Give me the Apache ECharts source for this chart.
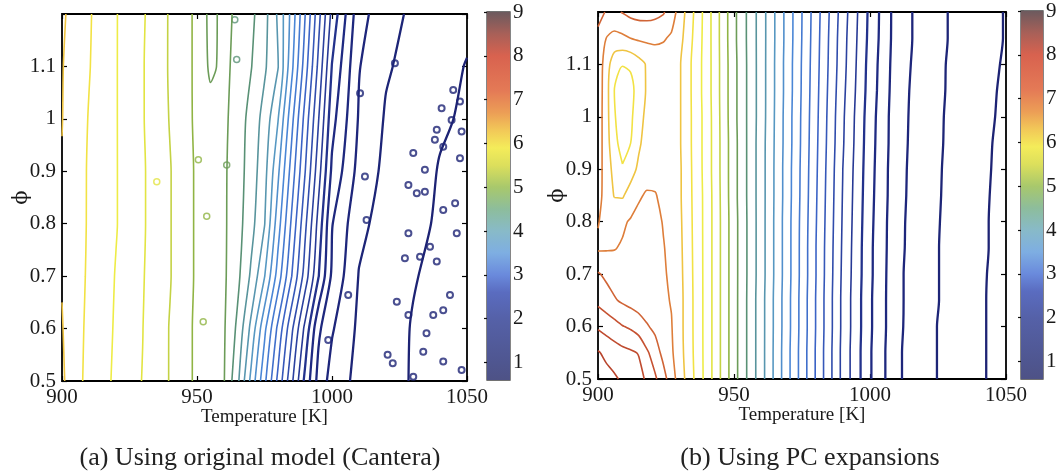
<!DOCTYPE html>
<html>
<head>
<meta charset="utf-8">
<script src="https://cdn.jsdelivr.net/npm/echarts@6/dist/echarts.min.js"></script>
<style>
  html, body { margin: 0; padding: 0; background: #fff; }
  #chart { width: 1061px; height: 474px; }
</style>
</head>
<body>
<div id="chart"></div>
<script>
// ---------------- data ----------------
// contour levels (shared by both panels)
const LEVELS = [0.8, 1.0, 1.2, 1.4, 1.6, 1.8, 2.0, 2.2, 2.4, 2.6, 2.8, 3.0, 3.2, 3.4, 3.6, 3.8,
  4.0, 4.2, 4.4, 4.6, 4.8, 5.0, 5.2, 5.4, 5.6, 5.8, 6.0, 6.2, 6.4, 6.6, 6.8, 7.0, 7.2, 7.4, 7.6];

// axis ticks
const T_TICKS = [900, 950, 1000, 1050];
const PHI_RANGE = [0.5, 1.2];
const CB_RANGE = [0.6, 9];
const CB_TICKS = [1, 2, 3, 4, 5, 6, 7, 8, 9];
const CAPTIONS = ['(a) Using original model (Cantera)', '(b) Using PC expansions'];
const X_NAME = 'Temperature [K]';
const Y_NAME = '\u03d5';

// (a) original model: field sampled on a T x phi grid (rows bottom -> top)
const A_T = [900, 910, 920, 930, 940, 950, 955, 960, 965, 970, 975, 980, 985, 990, 995, 1000, 1010, 1020, 1030, 1040, 1050];
const A_PHI = [0.5, 0.6, 0.7, 0.8, 0.9, 1.0, 1.1, 1.2];
const A_Z = [
  [6.03, 5.73, 5.57, 5.39, 5.19, 4.96, 4.89, 4.81, 4.45, 3.95, 3.45, 2.95, 2.45, 1.95, 1.53, 1.32, 1.14, 1.05, 0.99, 0.96, 0.94],
  [6.01, 5.75, 5.58, 5.40, 5.19, 4.96, 4.89, 4.82, 4.56, 4.15, 3.65, 3.15, 2.65, 2.15, 1.64, 1.42, 1.16, 1.07, 0.99, 0.96, 0.94],
  [5.99, 5.77, 5.59, 5.41, 5.21, 4.97, 4.90, 4.83, 4.65, 4.37, 4.01, 3.51, 3.01, 2.51, 2.01, 1.56, 1.19, 1.10, 1.01, 0.96, 0.93],
  [5.98, 5.78, 5.61, 5.42, 5.21, 4.97, 4.90, 4.83, 4.68, 4.47, 4.21, 3.69, 3.17, 2.65, 2.13, 1.61, 1.25, 1.12, 1.04, 0.98, 0.94],
  [5.99, 5.78, 5.61, 5.42, 5.21, 4.97, 4.90, 4.83, 4.69, 4.51, 4.27, 3.84, 3.32, 2.81, 2.28, 1.76, 1.33, 1.15, 1.07, 0.99, 0.96],
  [6.005, 5.79, 5.61, 5.41, 5.19, 4.96, 4.89, 4.84, 4.71, 4.53, 4.33, 4.01, 3.47, 2.93, 2.41, 1.87, 1.38, 1.18, 1.10, 1.02, 0.98],
  [6.01, 5.81, 5.61, 5.41, 5.18, 4.96, 4.76, 4.85, 4.74, 4.61, 4.43, 4.21, 3.66, 3.10, 2.55, 1.99, 1.41, 1.22, 1.14, 1.07, 0.99],
  [6.03, 5.82, 5.61, 5.42, 5.18, 4.96, 4.74, 4.86, 4.76, 4.65, 4.47, 4.17, 3.74, 3.21, 2.67, 2.14, 1.47, 1.28, 1.16, 1.10, 1.05]
];
// (a) small closed islands of the noisy solution: [T, phi, level]
const A_ISLANDS = [
  [1044.9, 1.055, 1.0], [1047.4, 1.033, 1.0], [1040.6, 1.020, 1.0], [1038.8, 0.979, 1.0], [1044.3, 0.998, 1.0],
  [1048.0, 0.976, 1.0], [1030.1, 0.935, 1.0], [1038.1, 0.960, 1.0], [1041.2, 0.947, 1.0], [1034.4, 0.903, 1.0],
  [1047.4, 0.925, 1.0], [1028.3, 0.874, 1.0], [1031.4, 0.858, 1.0], [1034.4, 0.861, 1.0], [1045.6, 0.839, 1.0],
  [1041.2, 0.826, 1.0], [1028.3, 0.782, 1.0], [1046.2, 0.782, 1.0], [1036.3, 0.756, 1.0], [1027.0, 0.734, 1.0],
  [1032.6, 0.737, 1.0], [1038.8, 0.728, 1.0], [1043.7, 0.664, 1.0], [1024.0, 0.651, 1.0], [1037.5, 0.626, 1.0],
  [1041.2, 0.635, 1.0], [1028.3, 0.626, 1.0], [1035.0, 0.591, 1.0], [1020.6, 0.550, 1.0], [1022.5, 0.534, 1.0],
  [1033.8, 0.556, 1.0], [1041.2, 0.537, 1.0], [1048.0, 0.521, 1.0], [1030.1, 0.508, 1.0], [1010.4, 1.049, 1.2],
  [1023.3, 1.106, 1.2], [1006.0, 0.664, 1.2], [998.6, 0.578, 1.4], [1012.8, 0.807, 1.2], [1012.2, 0.890, 1.2],
  [952.3, 0.613, 5.0], [953.6, 0.814, 5.0], [961.0, 0.912, 4.8], [950.5, 0.922, 5.0], [935.1, 0.880, 5.4],
  [964.0, 1.189, 4.6], [964.7, 1.113, 4.6]
];

// (b) PC expansion: field sampled on a T x phi grid (rows bottom -> top)
const B_T = [900, 903, 906, 909, 912, 915, 918, 921, 924, 927, 930, 940, 950, 960, 970, 980, 990, 1000, 1010, 1020, 1030, 1040, 1050];
const B_PHI = [0.5, 0.55, 0.6, 0.65, 0.7, 0.75, 0.8, 0.85, 0.9, 0.95, 1.0, 1.05, 1.1, 1.15, 1.2];
const B_Z = [
  [7.15, 7.08, 7.03, 6.97, 6.92, 6.86, 6.77, 6.63, 6.48, 6.29, 6.11, 5.52, 4.88, 4.28, 3.64, 2.99, 2.34, 1.82, 1.43, 1.26, 1.13, 1.03, 0.92],
  [7.02, 6.95, 6.90, 6.86, 6.83, 6.79, 6.63, 6.50, 6.34, 6.23, 6.08, 5.52, 4.88, 4.28, 3.64, 2.99, 2.34, 1.82, 1.43, 1.26, 1.13, 1.03, 0.92],
  [6.77, 6.72, 6.67, 6.61, 6.57, 6.50, 6.42, 6.35, 6.27, 6.21, 6.07, 5.52, 4.88, 4.28, 3.65, 3.00, 2.35, 1.83, 1.44, 1.26, 1.13, 1.03, 0.92],
  [6.55, 6.49, 6.42, 6.37, 6.33, 6.30, 6.27, 6.25, 6.23, 6.19, 6.07, 5.52, 4.88, 4.28, 3.65, 3.00, 2.35, 1.83, 1.44, 1.27, 1.14, 1.03, 0.92],
  [6.42, 6.36, 6.31, 6.28, 6.26, 6.25, 6.24, 6.23, 6.22, 6.17, 6.06, 5.52, 4.88, 4.29, 3.66, 3.01, 2.36, 1.84, 1.44, 1.27, 1.14, 1.03, 0.93],
  [6.17, 6.18, 6.19, 6.22, 6.24, 6.24, 6.24, 6.23, 6.21, 6.15, 6.05, 5.52, 4.88, 4.29, 3.66, 3.01, 2.37, 1.84, 1.45, 1.27, 1.14, 1.04, 0.93],
  [6.21, 6.14, 6.12, 6.17, 6.22, 6.25, 6.26, 6.25, 6.19, 6.13, 6.04, 5.52, 4.88, 4.29, 3.66, 3.02, 2.38, 1.85, 1.45, 1.28, 1.14, 1.04, 0.93],
  [6.28, 6.11, 5.99, 5.98, 6.08, 6.18, 6.22, 6.21, 6.16, 6.11, 6.03, 5.52, 4.87, 4.29, 3.67, 3.03, 2.39, 1.86, 1.46, 1.28, 1.15, 1.04, 0.94],
  [6.30, 6.10, 5.94, 5.82, 5.92, 6.04, 6.12, 6.14, 6.12, 6.09, 6.03, 5.51, 4.87, 4.29, 3.67, 3.04, 2.40, 1.87, 1.46, 1.29, 1.15, 1.05, 0.94],
  [6.31, 6.09, 5.86, 5.72, 5.80, 5.97, 6.08, 6.12, 6.11, 6.08, 6.02, 5.51, 4.87, 4.29, 3.68, 3.05, 2.42, 1.88, 1.47, 1.29, 1.16, 1.05, 0.95],
  [6.32, 6.08, 5.82, 5.68, 5.76, 5.93, 6.05, 6.10, 6.10, 6.07, 6.02, 5.51, 4.86, 4.30, 3.68, 3.06, 2.43, 1.89, 1.47, 1.30, 1.16, 1.06, 0.96],
  [6.33, 6.08, 5.80, 5.66, 5.73, 5.90, 6.02, 6.08, 6.09, 6.07, 6.02, 5.50, 4.86, 4.30, 3.69, 3.07, 2.45, 1.91, 1.48, 1.30, 1.17, 1.06, 0.97],
  [6.33, 6.10, 5.88, 5.81, 5.83, 5.92, 6.02, 6.08, 6.09, 6.07, 6.02, 5.50, 4.86, 4.30, 3.69, 3.08, 2.47, 1.92, 1.49, 1.31, 1.17, 1.07, 0.98],
  [6.32, 6.20, 6.14, 6.16, 6.20, 6.23, 6.24, 6.24, 6.22, 6.17, 6.07, 5.50, 4.85, 4.30, 3.70, 3.09, 2.48, 1.94, 1.50, 1.32, 1.18, 1.08, 0.99],
  [6.50, 6.38, 6.36, 6.41, 6.46, 6.48, 6.48, 6.46, 6.42, 6.30, 6.12, 5.50, 4.85, 4.30, 3.70, 3.10, 2.50, 1.95, 1.50, 1.32, 1.18, 1.08, 0.99]
];

// ---------------- styling ----------------
const FONT = 'Liberation Serif';
const LINE_STOPS = [
  [0.8, '#1c2170'], [1.8, '#1f2a82'], [2.4, '#2b419f'], [3.0, '#3b63c6'], [3.6, '#4a86d6'],
  [4.0, '#5798c2'], [4.4, '#58949c'], [4.7, '#5a9062'], [5.0, '#90b444'], [5.2, '#c4d244'],
  [5.4, '#e2e442'], [5.6, '#eeec46'], [5.8, '#f2e244'], [6.0, '#efc442'], [6.2, '#de7e3a'],
  [6.4, '#d06436'], [6.6, '#c65232'], [7.0, '#b8442c'], [7.6, '#a03a28']
];
const CB_STOPS = [
  [0.6, '#4e5286'], [1, '#4f5690'], [2, '#5561a8'], [2.6, '#5a6cc0'], [3, '#6a8adc'],
  [3.5, '#7eaee2'], [4, '#88bac8'], [4.5, '#8dbd9c'], [5, '#a8c86c'], [5.5, '#dcdf5c'],
  [5.9, '#f4ec5a'], [6.3, '#f2c858'], [6.7, '#ec9e56'], [7.2, '#e47a56'], [8, '#d8624f'],
  [8.5, '#a86058'], [9, '#6c5a5e']
];

function hexToRgb(h) { const n = parseInt(h.slice(1), 16); return [(n >> 16) & 255, (n >> 8) & 255, n & 255]; }
function colorAt(stops, v) {
  if (v <= stops[0][0]) return stops[0][1];
  for (let k = 1; k < stops.length; k++) {
    if (v <= stops[k][0]) {
      const t = (v - stops[k - 1][0]) / (stops[k][0] - stops[k - 1][0]);
      const a = hexToRgb(stops[k - 1][1]), b = hexToRgb(stops[k][1]);
      const c = a.map((x, i) => Math.round(x + t * (b[i] - x)));
      return 'rgb(' + c.join(',') + ')';
    }
  }
  return stops[stops.length - 1][1];
}

// ---------------- marching squares ----------------
const CASES = {
  1: [['L', 'B']], 2: [['B', 'R']], 3: [['L', 'R']], 4: [['R', 'T']], 6: [['B', 'T']], 7: [['L', 'T']],
  8: [['T', 'L']], 9: [['B', 'T']], 11: [['R', 'T']], 12: [['L', 'R']], 13: [['B', 'R']], 14: [['L', 'B']]
};
function isolines(xs, ys, z, level) {
  const lev = level + 1e-9;
  const segs = [];
  for (let j = 0; j < ys.length - 1; j++) {
    for (let i = 0; i < xs.length - 1; i++) {
      const v00 = z[j][i], v10 = z[j][i + 1], v11 = z[j + 1][i + 1], v01 = z[j + 1][i];
      const code = (v00 > lev ? 1 : 0) | (v10 > lev ? 2 : 0) | (v11 > lev ? 4 : 0) | (v01 > lev ? 8 : 0);
      const E = { B: 'h' + i + ',' + j, T: 'h' + i + ',' + (j + 1), L: 'v' + i + ',' + j, R: 'v' + (i + 1) + ',' + j };
      let pairs = CASES[code];
      if (code === 5 || code === 10) {
        const hi = (v00 + v10 + v11 + v01) / 4 > lev;
        if (code === 5) pairs = hi ? [['B', 'R'], ['T', 'L']] : [['L', 'B'], ['R', 'T']];
        else pairs = hi ? [['L', 'B'], ['R', 'T']] : [['B', 'R'], ['T', 'L']];
      }
      if (!pairs) continue;
      pairs.forEach(p => segs.push([E[p[0]], E[p[1]]]));
    }
  }
  const point = key => {
    const ij = key.slice(1).split(',').map(Number), i = ij[0], j = ij[1];
    if (key[0] === 'h') {
      const a = z[j][i], b = z[j][i + 1], t = (lev - a) / (b - a);
      return [xs[i] + t * (xs[i + 1] - xs[i]), ys[j]];
    }
    const a = z[j][i], b = z[j + 1][i], t = (lev - a) / (b - a);
    return [xs[i], ys[j] + t * (ys[j + 1] - ys[j])];
  };
  const byEdge = new Map();
  segs.forEach((s, idx) => s.forEach(k => { if (!byEdge.has(k)) byEdge.set(k, []); byEdge.get(k).push(idx); }));
  const used = new Array(segs.length).fill(false);
  const walk = (idx, key) => {
    const keys = [key];
    let cur = key;
    while (idx !== undefined && !used[idx]) {
      used[idx] = true;
      const s = segs[idx];
      const nxt = s[0] === cur ? s[1] : s[0];
      keys.push(nxt);
      cur = nxt;
      idx = byEdge.get(nxt).find(k => !used[k]);
    }
    return keys.map(point);
  };
  const lines = [];
  segs.forEach((s, idx) => {
    if (used[idx]) return;
    const open = s.find(k => byEdge.get(k).length === 1);
    if (open) lines.push(walk(idx, open));
  });
  segs.forEach((s, idx) => { if (!used[idx]) lines.push(walk(idx, s[0])); });
  return lines;
}

function lineWidth(level) { return level <= 2.0 ? 2.3 : 1.6; }

function contourSeries(xs, ys, z, axisIdx) {
  const out = [];
  LEVELS.forEach(level => {
    isolines(xs, ys, z, level).forEach(pts => {
      out.push({
        type: 'line', xAxisIndex: axisIdx, yAxisIndex: axisIdx, data: pts,
        showSymbol: false, smooth: 0.25, silent: true, animation: false, clip: true,
        lineStyle: { color: colorAt(LINE_STOPS, level), width: lineWidth(level) }
      });
    });
  });
  return out;
}

// ---------------- axes ----------------
const GRIDS = [
  { left: 62, top: 14, width: 405, height: 367 },
  { left: 598, top: 12, width: 408, height: 367 },
  { left: 487, top: 12, width: 23, height: 368 },
  { left: 1021, top: 11, width: 22, height: 368 }
];
const labelStyle = { fontFamily: FONT, fontSize: 21, color: '#1a1a1a' };
const tickStyle = { inside: true, length: 5, lineStyle: { color: '#000', width: 1.2 } };

function mainAxes(g) {
  const x = [
    { gridIndex: g, type: 'value', min: T_TICKS[0], max: T_TICKS[T_TICKS.length - 1], interval: 50,
      axisLine: { show: false }, splitLine: { show: false }, axisTick: tickStyle,
      axisLabel: Object.assign({ margin: 6, formatter: v => String(v) }, labelStyle),
      name: X_NAME, nameLocation: 'middle', nameGap: 27, nameMoveOverlap: false,
      nameTextStyle: { fontFamily: FONT, fontSize: 19, color: '#1a1a1a' } },
    { gridIndex: g, type: 'value', position: 'top', min: T_TICKS[0], max: T_TICKS[T_TICKS.length - 1], interval: 50,
      axisLine: { show: false }, splitLine: { show: false }, axisTick: tickStyle, axisLabel: { show: false } }
  ];
  const y = [
    { gridIndex: g, type: 'value', min: PHI_RANGE[0], max: PHI_RANGE[1], interval: 0.1,
      axisLine: { show: false }, splitLine: { show: false }, axisTick: tickStyle,
      axisLabel: Object.assign({ margin: 6, formatter: v => (v > 1.15 ? '' : String(Math.round(v * 10) / 10)) }, labelStyle),
      name: Y_NAME, nameLocation: 'middle', nameGap: 30, nameRotate: 90, nameMoveOverlap: false,
      nameTextStyle: { fontFamily: 'DejaVu Serif', fontSize: 21, color: '#1a1a1a' } },
    { gridIndex: g, type: 'value', position: 'right', min: PHI_RANGE[0], max: PHI_RANGE[1], interval: 0.1,
      axisLine: { show: false }, splitLine: { show: false }, axisTick: tickStyle, axisLabel: { show: false } }
  ];
  return { x, y };
}
function cbAxes(g) {
  const x = [{ gridIndex: g, type: 'value', min: 0, max: 1, show: false }];
  const y = [
    { gridIndex: g, type: 'value', position: 'right', min: CB_RANGE[0], max: CB_RANGE[1],
      axisLine: { show: false }, splitLine: { show: false },
      axisTick: { inside: true, length: 3, customValues: CB_TICKS, lineStyle: { color: '#111', width: 1.2 } },
      axisLabel: Object.assign({ margin: 3, customValues: CB_TICKS }, labelStyle) },
    { gridIndex: g, type: 'value', position: 'left', min: CB_RANGE[0], max: CB_RANGE[1],
      axisLine: { show: false }, splitLine: { show: false },
      axisTick: { inside: true, length: 3, customValues: CB_TICKS, lineStyle: { color: '#111', width: 1.2 } },
      axisLabel: { show: false } }
  ];
  return { x, y };
}

const axA = mainAxes(0), axB = mainAxes(1), cbA = cbAxes(2), cbB = cbAxes(3);
// axis index order: 0,1 -> panel a (x bottom/top; y left/right), 2,3 -> panel b, 4 -> cb a, 5 -> cb b
const xAxes = [axA.x[0], axA.x[1], axB.x[0], axB.x[1], cbA.x[0], cbB.x[0]];
const yAxes = [axA.y[0], axA.y[1], axB.y[0], axB.y[1], cbA.y[0], cbA.y[1], cbB.y[0], cbB.y[1]];

function colorbarSeries(xi, yi) {
  const span = CB_RANGE[1] - CB_RANGE[0];
  const stops = CB_STOPS.map(s => ({ offset: 1 - (s[0] - CB_RANGE[0]) / span, color: s[1] })).reverse();
  return {
    type: 'custom', xAxisIndex: xi, yAxisIndex: yi, silent: true, animation: false,
    data: [[0, CB_RANGE[0], 1, CB_RANGE[1]]],
    encode: { x: [0, 2], y: [1, 3] },
    renderItem: (params, api) => {
      const p0 = api.coord([api.value(0), api.value(3)]);
      const p1 = api.coord([api.value(2), api.value(1)]);
      return { type: 'rect', shape: { x: p0[0], y: p0[1], width: p1[0] - p0[0], height: p1[1] - p0[1] },
        style: { fill: new echarts.graphic.LinearGradient(0, 0, 0, 1, stops) } };
    }
  };
}

// contour series: panel a on axes 0, panel b on axes 2
const seriesA = contourSeries(A_T, A_PHI, A_Z, 0);
const seriesB = contourSeries(B_T, B_PHI, B_Z, 2);

const islandSeries = {
  type: 'scatter', xAxisIndex: 0, yAxisIndex: 0, silent: true, animation: false,
  symbol: 'circle', symbolSize: 6,
  data: A_ISLANDS.map(p => ({ value: [p[0], p[1]],
    itemStyle: { color: 'rgba(0,0,0,0)', borderColor: colorAt(LINE_STOPS, p[2]), borderWidth: p[2] <= 2 ? 2 : 1.5 } }))
};

const chart = echarts.init(document.getElementById('chart'), null, { renderer: 'canvas' });
chart.setOption({
  animation: false,
  backgroundColor: '#fff',
  grid: [
    Object.assign({ show: true, borderColor: '#000', borderWidth: 1.8, backgroundColor: 'transparent' }, GRIDS[0]),
    Object.assign({ show: true, borderColor: '#000', borderWidth: 1.8, backgroundColor: 'transparent' }, GRIDS[1]),
    Object.assign({ show: true, borderColor: '#444', borderWidth: 1.3, backgroundColor: 'transparent' }, GRIDS[2]),
    Object.assign({ show: true, borderColor: '#444', borderWidth: 1.3, backgroundColor: 'transparent' }, GRIDS[3])
  ],
  xAxis: xAxes,
  yAxis: yAxes,
  series: [].concat(seriesA, [islandSeries], seriesB, [colorbarSeries(4, 4), colorbarSeries(5, 6)]),
  graphic: [
    { type: 'text', x: 260, y: 458, style: { text: CAPTIONS[0], font: '26px "' + FONT + '"', fill: '#222', align: 'center', verticalAlign: 'middle' } },
    { type: 'text', x: 810, y: 458, style: { text: CAPTIONS[1], font: '26px "' + FONT + '"', fill: '#222', align: 'center', verticalAlign: 'middle' } }
  ]
});
</script>
</body>
</html>
